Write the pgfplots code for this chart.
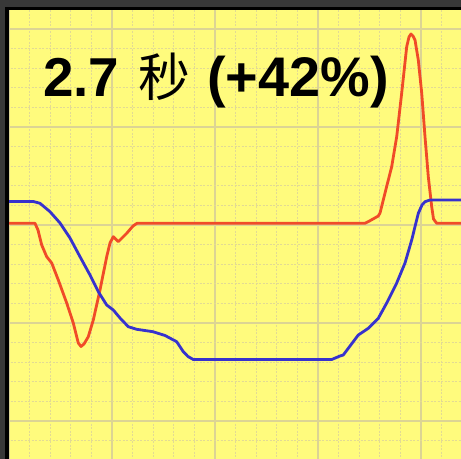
\documentclass[border=0pt]{standalone}
\usepackage{pgfplots}
\pgfplotsset{compat=1.18}
\usepackage{fontspec}
\setmainfont{Liberation Sans}
\newfontfamily\cjk{Noto Sans CJK SC}
\definecolor{bgyellow}{RGB}{255,251,125}
\definecolor{majgrid}{RGB}{220,212,148}
\definecolor{mingrid}{RGB}{226,218,148}
\definecolor{redline}{RGB}{240,75,40}
\definecolor{blueline}{RGB}{55,50,205}
\definecolor{frame}{RGB}{56,56,56}
\begin{document}
\begin{tikzpicture}
\begin{axis}[
  width=461bp, height=459bp, scale only axis,
  xmin=0, xmax=461, ymin=0, ymax=459, y dir=reverse,
  axis line style={draw=none},
  major tick length=0pt, minor tick length=0pt,
  xticklabels={}, yticklabels={},
  xtick={9,112,215,318,421},
  minor xtick={29.6,50.2,70.8,91.4,132.6,153.2,173.8,194.4,235.6,256.2,276.8,297.4,338.6,359.2,379.8,400.4,441.6},
  ytick={29,127,225,323,421},
  minor ytick={48.6,68.2,87.8,107.4,146.6,166.2,185.8,205.4,244.6,264.2,283.8,303.4,342.6,362.2,381.8,401.4,440.6},
  grid=both,
  major grid style={draw=majgrid, line width=1.5bp},
  minor grid style={draw=mingrid, line width=1.2bp, dash pattern=on 2bp off 1.5bp},
  axis background/.style={fill=bgyellow},
]
\addplot[redline, line width=2.8bp, line join=round] coordinates {
(9,223.3) (35,223.3) (38,230) (41.7,245) (46.7,256.7) (51.7,263) (58.3,280) (66.7,303) (73.3,323) (78.3,343) (81,346.5) (84,344) (88.3,336.7) (93.3,320) (100,290) (106.7,256.7) (110,243) (113.3,236.7) (118.3,241.7) (126.7,233.3) (133,226) (137,223.3) (365,223.3) (370,220.7) (378.3,216) (380,213) (385,193) (391.7,166.7) (396.7,136.7) (401.7,93) (406.7,46.7) (409,37) (411,34) (413,36) (415,40) (418.3,60) (421.7,93) (425,136.7) (428.3,176.7) (431.7,206.7) (433.5,219) (436.7,223.3) (461,223.3)
};
\addplot[blueline, line width=2.8bp, line join=round] coordinates {
(9,201.5) (33.3,201.5) (40,203.3) (50,211.7) (60,223) (70,238) (80,256.7) (90,275) (98.3,291.7) (106.7,305) (113.3,310) (120,318) (128.3,326.7) (136.7,329.3) (153,331.7) (165,335.5) (176.7,341.7) (183.3,351.7) (188,356.5) (193.3,359.5) (331.7,359.5) (340,356) (343.3,355) (350,346) (358.3,335) (368.3,328.3) (378.3,318.3) (386.7,303) (396.7,283) (405,263) (411.7,240) (418.3,213.3) (422,205) (425,201.7) (430,200) (461,200)
};
\fill[frame] (axis cs:0,0) rectangle (axis cs:461,10);
\fill[frame] (axis cs:0,0) rectangle (axis cs:9,459);
\fill[black] (axis cs:5,7) rectangle (axis cs:461,10);
\fill[black] (axis cs:5,7) rectangle (axis cs:9,459);
\node[anchor=base west, inner sep=0pt, font=\fontsize{55}{60}\selectfont\bfseries] at (axis cs:43,97) {2.7};
\node[anchor=base west, inner sep=0pt, font=\fontsize{52}{60}\selectfont\cjk] at (axis cs:138,97) {秒};
\node[anchor=base west, inner sep=0pt, font=\fontsize{56}{60}\selectfont\bfseries] at (axis cs:207,97) {(+42\%)};
\end{axis}
\pgfresetboundingbox
\useasboundingbox (current axis.south west) rectangle (current axis.north east);
\end{tikzpicture}
\end{document}
